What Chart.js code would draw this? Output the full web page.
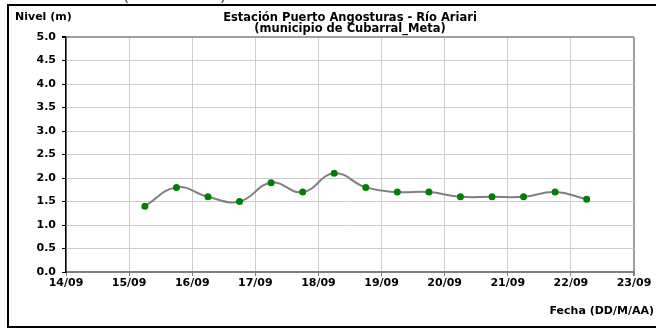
<!DOCTYPE html>
<html>
<head>
<meta charset="utf-8">
<script src="https://cdn.jsdelivr.net/npm/chart.js@4.4.1/dist/chart.umd.min.js"></script>
<style>
  html, body { margin: 0; padding: 0; background: #fff; overflow: hidden; }
  #wrap { position: relative; width: 656px; height: 329px; }
  #frame {
    position: absolute; left: 7px; top: 4px; width: 700px; height: 324px;
    box-sizing: border-box; border: 2px solid #000;
  }
  .paren {
    position: absolute; top: -11px; font: 12px "Liberation Sans", Arial, sans-serif; color: #000;
  }
  canvas { position: absolute; left: 0; top: 0; }
</style>
</head>
<body>
<div id="wrap">
  <span class="paren" style="left:124px">(</span>
  <span class="paren" style="left:221px">)</span>
  <div id="frame"></div>
  <canvas id="chart" width="656" height="329"></canvas>
</div>
<script>
// dias contados desde el 14/09 (0 = 14/09 00:00)
const dias = [1.25, 1.75, 2.25, 2.75, 3.25, 3.75, 4.25, 4.75, 5.25, 5.75, 6.25, 6.75, 7.25, 7.75, 8.25];
const niveles = [1.4, 1.8, 1.6, 1.5, 1.9, 1.7, 2.1, 1.8, 1.7, 1.7, 1.6, 1.6, 1.6, 1.7, 1.55];
const etiquetasFecha = ['14/09', '15/09', '16/09', '17/09', '18/09', '19/09', '20/09', '21/09', '22/09', '23/09'];
const titulo = ['Estación Puerto Angosturas - Río Ariari', '(municipio de Cubarral_Meta)'];

const fuente = '"DejaVu Sans", Verdana, sans-serif';

// textos de los ejes, fuera del area del grafico
const textosEjes = {
  id: 'textosEjes',
  afterDraw(chart) {
    const { ctx } = chart;
    ctx.save();
    ctx.fillStyle = '#000';
    ctx.font = 'bold 11px ' + fuente;
    ctx.textBaseline = 'middle';
    ctx.textAlign = 'left';
    ctx.fillText('Nivel (m)', 15, 17);
    ctx.textAlign = 'right';
    ctx.fillText('Fecha (DD/M/AA)', 654, 311);
    ctx.restore();
  },
};

new Chart(document.getElementById('chart'), {
  type: 'line',
  data: {
    datasets: [{
      data: dias.map((d, i) => ({ x: d, y: niveles[i] })),
      borderColor: '#808080',
      borderWidth: 2,
      tension: 0.45,
      pointBackgroundColor: '#008000',
      pointBorderColor: '#008000',
      pointRadius: 2.5,
      fill: false,
    }],
  },
  options: {
    responsive: false,
    animation: false,
    layout: { padding: { left: 0, right: 22, top: 0, bottom: 0 } },
    plugins: {
      legend: { display: false },
      tooltip: { enabled: false },
      title: {
        display: true,
        fullSize: false,
        text: titulo,
        color: '#000',
        font: { family: fuente, size: 11.5, weight: 'bold', lineHeight: 1.0 },
        padding: { top: 12, bottom: 2 },
      },
    },
    scales: {
      x: {
        type: 'linear',
        min: 0,
        max: 9,
        afterFit(scale) { scale.height = 57; },
        ticks: {
          stepSize: 1,
          autoSkip: false,
          maxRotation: 0,
          padding: 1,
          color: '#000',
          font: { family: fuente, size: 11, weight: 'bold' },
          callback: v => etiquetasFecha[v],
        },
        grid: {
          color: ctx => (ctx.tick && ctx.tick.value === 9 ? '#a0a0a0' : '#cccccc'),
          lineWidth: ctx => (ctx.tick && ctx.tick.value === 9 ? 2 : 1),
          tickColor: '#808080',
          tickLength: 4,
        },
        border: { color: '#808080', width: 2 },
      },
      y: {
        min: 0,
        max: 5,
        afterFit(scale) { scale.width = 66; },
        ticks: {
          stepSize: 0.5,
          padding: 6,
          color: '#000',
          font: { family: fuente, size: 11, weight: 'bold' },
          callback: v => v.toFixed(1),
        },
        grid: {
          color: ctx => (ctx.tick && ctx.tick.value === 5 ? '#a0a0a0' : '#cccccc'),
          lineWidth: ctx => (ctx.tick && ctx.tick.value === 5 ? 2 : 1),
          tickColor: '#000',
          tickLength: 4,
        },
        border: { color: '#000', width: 1.5 },
      },
    },
  },
  plugins: [textosEjes],
});
</script>
</body>
</html>
